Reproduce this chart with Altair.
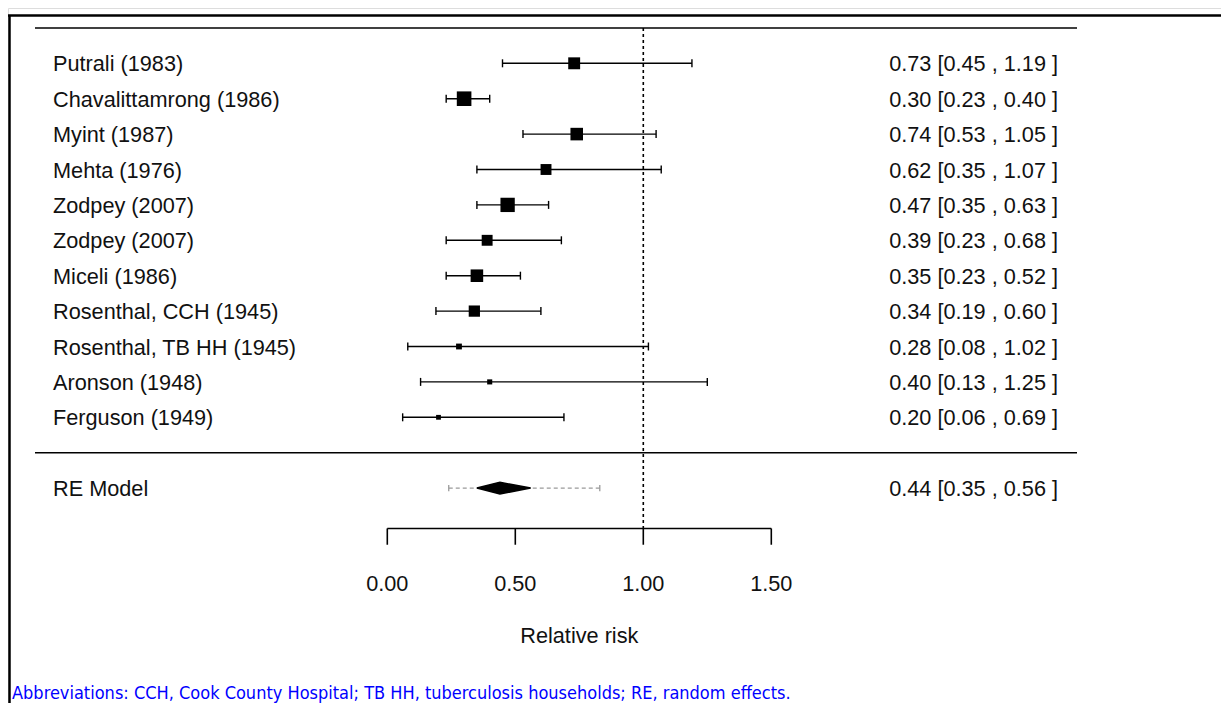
import altair as alt
import pandas as pd

# ---------------- data ----------------
studies = [
    "Putrali (1983)", "Chavalittamrong (1986)", "Myint (1987)", "Mehta (1976)",
    "Zodpey (2007)", "Zodpey (2007)", "Miceli (1986)", "Rosenthal, CCH (1945)",
    "Rosenthal, TB HH (1945)", "Aronson (1948)", "Ferguson (1949)",
]
rr = [0.73, 0.30, 0.74, 0.62, 0.47, 0.39, 0.35, 0.34, 0.28, 0.40, 0.20]
ci_low = [0.45, 0.23, 0.53, 0.35, 0.35, 0.23, 0.23, 0.19, 0.08, 0.13, 0.06]
ci_high = [1.19, 0.40, 1.05, 1.07, 0.63, 0.68, 0.52, 0.60, 1.02, 1.25, 0.69]
weights = [11.3, 15.0, 12.2, 9.9, 14.6, 9.9, 12.2, 10.4, 2.9, 1.9, 1.5]

re_label = "RE Model"
re_est = 0.44
re_low = 0.35
re_high = 0.56
pi_low = 0.24
pi_high = 0.83

ref_value = 1.0
tick_values = [0.0, 0.5, 1.0, 1.5]
x_title = "Relative risk"
footnote = ("Abbreviations: CCH, Cook County Hospital; TB HH, tuberculosis "
            "households; RE, random effects.")

# ---------------- layout constants ----------------
W, H = 1213, 695
ROW0_PX, ROW_STEP = 55.3, 35.4          # plot-y of first row and row spacing
X0_PX, X_UNIT = 379.3, 256.0            # plot-x of value 0 and pixels per unit
x_scale = alt.Scale(domain=[-X0_PX / X_UNIT, (W - X0_PX) / X_UNIT], nice=False, zero=False)
y_scale = alt.Scale(domain=[-ROW0_PX / ROW_STEP, (H - ROW0_PX) / ROW_STEP],
                    nice=False, zero=False, reverse=True)

n = len(studies)
RE_ROW = n + 1
SEP_ROW = n
TOP_ROW = -1
AXIS_ROW = 13.14
TICK_END = 13.6
TICKLAB_ROW = 14.68
TITLE_ROW = 16.16
FOOT_ROW = 17.79
FRAME_ROW = -1.35
CAP = 0.113
FONT = "Liberation Sans"
FS = 21.7

def X(f, **kw):
    return alt.X(f, type="quantitative", scale=x_scale, axis=None, **kw)

def Y(f, **kw):
    return alt.Y(f, type="quantitative", scale=y_scale, axis=None, **kw)

df = pd.DataFrame({
    "study": studies, "rr": rr, "lo": ci_low, "hi": ci_high, "w": weights,
    "row": list(range(n)),
})
df["annot"] = [f"{a:.2f} [{b:.2f} , {c:.2f} ]" for a, b, c in zip(rr, ci_low, ci_high)]
wmin, wmax = min(weights), max(weights)

base = alt.Chart(df)

ci = base.mark_rule(color="black", strokeWidth=1.4).encode(
    x=X("lo"), x2="hi", y=Y("row"))

caps = base.transform_fold(["lo", "hi"], as_=["end", "val"]).transform_calculate(
    y1=f"datum.row - {CAP}", y2=f"datum.row + {CAP}"
).mark_rule(color="black", strokeWidth=1.4).encode(
    x=X("val"), y=Y("y1"), y2="y2")

squares = base.transform_calculate(
    side=f"4.8 + (datum.w - {wmin}) / ({wmax} - {wmin}) * 9.8",
).transform_calculate(area="datum.side * datum.side").mark_square(
    color="black", filled=True, opacity=1).encode(
    x=X("rr"), y=Y("row"), size=alt.Size("area:Q", scale=None))

labels = base.mark_text(align="left", baseline="middle", dy=1, font=FONT,
                        fontSize=FS, color="#111").encode(
    x=alt.value(45), y=Y("row"), text="study:N")

annots = base.mark_text(align="right", baseline="middle", dy=1, font=FONT,
                        fontSize=FS, color="#111").encode(
    x=alt.value(1050), y=Y("row"), text="annot:N")

# ---- RE model ----
re_df = pd.DataFrame({"label": [re_label], "est": [re_est], "lo": [re_low], "hi": [re_high],
                      "plo": [pi_low], "phi": [pi_high], "row": [RE_ROW]})
re_df["annot"] = [f"{re_est:.2f} [{re_low:.2f} , {re_high:.2f} ]"]
re_base = alt.Chart(re_df)

pi_line = re_base.mark_rule(color="#9a9a9a", strokeWidth=1.3, strokeDash=[4, 3]).encode(
    x=X("plo"), x2="phi", y=Y("row"))
pi_caps = re_base.transform_fold(["plo", "phi"], as_=["end", "val"]).transform_calculate(
    y1=f"datum.row - {CAP * 0.8}", y2=f"datum.row + {CAP * 0.8}"
).mark_rule(color="#9a9a9a", strokeWidth=1.3).encode(x=X("val"), y=Y("y1"), y2="y2")

DH = 0.165
diamond_df = pd.DataFrame({
    "x": [re_low, re_est, re_high],
    "y1": [RE_ROW, RE_ROW - DH, RE_ROW],
    "y2": [RE_ROW, RE_ROW + DH, RE_ROW],
})
diamond = alt.Chart(diamond_df).mark_area(
    color="black", orient="vertical", opacity=1, stroke="black", strokeWidth=1.5).encode(
    x=X("x"), y=Y("y1"), y2="y2")

re_lab = re_base.mark_text(align="left", baseline="middle", dy=1, font=FONT,
                           fontSize=FS, color="#111").encode(
    x=alt.value(45), y=Y("row"), text="label:N")
re_ann = re_base.mark_text(align="right", baseline="middle", dy=1, font=FONT,
                           fontSize=FS, color="#111").encode(
    x=alt.value(1050), y=Y("row"), text="annot:N")

# ---- reference line ----
ref_df = pd.DataFrame({"x": [ref_value], "y1": [TOP_ROW], "y2": [AXIS_ROW]})
refline = alt.Chart(ref_df).mark_rule(color="black", strokeWidth=1.6, strokeDash=[3, 3]).encode(
    x=X("x"), y=Y("y1"), y2="y2")

# ---- horizontal separators ----
hl_df = pd.DataFrame({"row": [TOP_ROW, SEP_ROW]})
hlines = alt.Chart(hl_df).mark_rule(color="black", strokeWidth=1.5).encode(
    x=alt.value(27), x2=alt.value(1069), y=Y("row"))

# ---- custom axis ----
ax_df = pd.DataFrame({"x1": [min(tick_values)], "x2": [max(tick_values)], "row": [AXIS_ROW]})
axis_line = alt.Chart(ax_df).mark_rule(color="black", strokeWidth=1.6).encode(
    x=X("x1"), x2="x2", y=Y("row"))
tk_df = pd.DataFrame({"v": tick_values})
tk_df["lab"] = [f"{v:.2f}" for v in tick_values]
tk_df["y1"] = AXIS_ROW
tk_df["y2"] = TICK_END
tk_df["yl"] = TICKLAB_ROW
ticks = alt.Chart(tk_df).mark_rule(color="black", strokeWidth=1.6).encode(
    x=X("v"), y=Y("y1"), y2="y2")
tick_labels = alt.Chart(tk_df).mark_text(align="center", baseline="middle", dy=1, font=FONT,
                                         fontSize=FS, color="#111").encode(
    x=X("v"), y=Y("yl"), text="lab:N")

title_df = pd.DataFrame({"t": [x_title],
                         "x": [(min(tick_values) + max(tick_values)) / 2],
                         "row": [TITLE_ROW]})
title = alt.Chart(title_df).mark_text(align="center", baseline="middle", dy=1, font=FONT,
                                      fontSize=FS, color="#111").encode(
    x=X("x"), y=Y("row"), text="t:N")

foot_df = pd.DataFrame({"t": [footnote], "row": [FOOT_ROW]})
foot = alt.Chart(foot_df).mark_text(align="left", baseline="middle", dy=1,
                                    font="DejaVu Sans Condensed", fontSize=18,
                                    color="#0000ff").encode(
    x=alt.value(4), y=Y("row"), text="t:N")

# ---- outer frame (top and left edges) ----
frame_df = pd.DataFrame({"row": [FRAME_ROW]})
frame_top = alt.Chart(frame_df).mark_rule(color="black", strokeWidth=2.5).encode(
    x=alt.value(0), x2=alt.value(W), y=Y("row"))
frame_left = alt.Chart(frame_df).mark_rule(color="black", strokeWidth=2.5).encode(
    x=alt.value(1.5), y=Y("row"), y2=alt.value(H))

chart = alt.layer(
    frame_top, frame_left, hlines, refline, pi_line, pi_caps, diamond,
    ci, caps, squares, labels, annots, re_lab, re_ann,
    axis_line, ticks, tick_labels, title, foot,
).properties(
    width=W, height=H, autosize=alt.AutoSizeParams(type="none"), padding=0,
).configure_view(stroke=None).configure(background="white")

chart.save("out.html", embed_options={"renderer": "svg", "actions": False})
